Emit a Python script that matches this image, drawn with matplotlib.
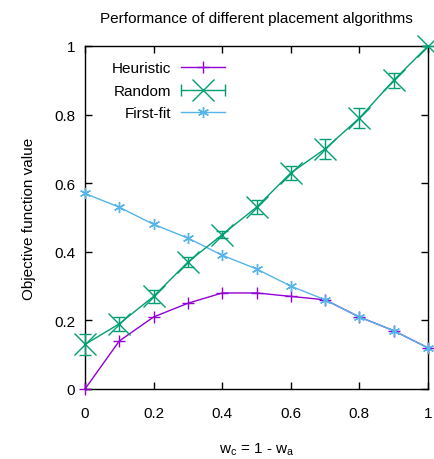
import matplotlib
matplotlib.use("Agg")
import matplotlib.pyplot as plt
from matplotlib.lines import Line2D
from matplotlib.legend_handler import HandlerLine2D, HandlerTuple

plt.rcParams['font.family'] = ['Liberation Sans', 'DejaVu Sans']

x = [0.0, 0.1, 0.2, 0.3, 0.4, 0.5, 0.6, 0.7, 0.8, 0.9, 1.0]
heuristic = [0.0, 0.14, 0.21, 0.25, 0.28, 0.28, 0.27, 0.26, 0.21, 0.17, 0.12]
random_vals = [0.13, 0.19, 0.27, 0.37, 0.45, 0.53, 0.63, 0.70, 0.79, 0.90, 1.0]
random_err = [0.03, 0.02, 0.02, 0.015, 0.01, 0.02, 0.02, 0.03, 0.03, 0.022, 0.0]
firstfit = [0.57, 0.53, 0.48, 0.44, 0.39, 0.35, 0.30, 0.26, 0.21, 0.17, 0.12]

c_h = '#9400d3'
c_r = '#009e73'
c_f = '#56b4e9'

FS = 11

fig = plt.figure(figsize=(4.34, 4.60), dpi=100)
ax = fig.add_axes([85 / 434, 70 / 460, 343 / 434, 343 / 460])

ax.plot(x, heuristic, color=c_h, lw=1, marker='+', ms=8, mew=1, clip_on=False, zorder=3)
ax.errorbar(x, random_vals, yerr=random_err, color=c_r, lw=1, marker='x', ms=16, mew=1,
            capsize=4.5, elinewidth=1, capthick=1, clip_on=False, zorder=4)
ax.plot(x, firstfit, color=c_f, lw=1, marker=(6, 2, 0), ms=8, mew=1, clip_on=False, zorder=3)

ax.set_xlim(0, 1)
ax.set_ylim(0, 1)
ax.set_xticks([0, 0.2, 0.4, 0.6, 0.8, 1])
ax.set_xticklabels(['0', '0.2', '0.4', '0.6', '0.8', '1'])
ax.set_yticks([0, 0.2, 0.4, 0.6, 0.8, 1])
ax.set_yticklabels(['0', '0.2', '0.4', '0.6', '0.8', '1'])
ax.tick_params(direction='in', top=True, right=True, length=5, width=1, labelsize=FS)
ax.tick_params(axis='x', pad=12)
ax.tick_params(axis='y', pad=7)
for s in ax.spines.values():
    s.set_linewidth(1)

ax.set_title('Performance of different placement algorithms', fontsize=FS, pad=17)
ax.set_xlabel(r'w$_\mathregular{c}$ = 1 - w$_\mathregular{a}$', fontsize=FS, labelpad=15)
ax.set_ylabel('Objective function value', fontsize=FS, labelpad=13)

h1 = Line2D([], [], color=c_h, lw=1, marker='+', ms=8, mew=1)
h2a = Line2D([], [], color=c_r, lw=1, marker='x', ms=16, mew=1)
h2b = Line2D([], [], color=c_r, lw=0, marker='|', ms=8, mew=1)
h3 = Line2D([], [], color=c_f, lw=1, marker=(6, 2, 0), ms=8, mew=1)
leg = ax.legend([h1, (h2a, h2b), h3], ['Heuristic', 'Random', 'First-fit'],
                loc='upper right', bbox_to_anchor=(0.448, 0.995), frameon=False,
                markerfirst=False, handlelength=2.9, fontsize=FS, labelspacing=0.55,
                handletextpad=0.6,
                handler_map={h2b: HandlerLine2D(numpoints=2, marker_pad=0.0),
                             tuple: HandlerTuple(ndivide=1)})
for t in leg.get_texts():
    t.set_ha('right')

fig.savefig('out.png', dpi=100)
